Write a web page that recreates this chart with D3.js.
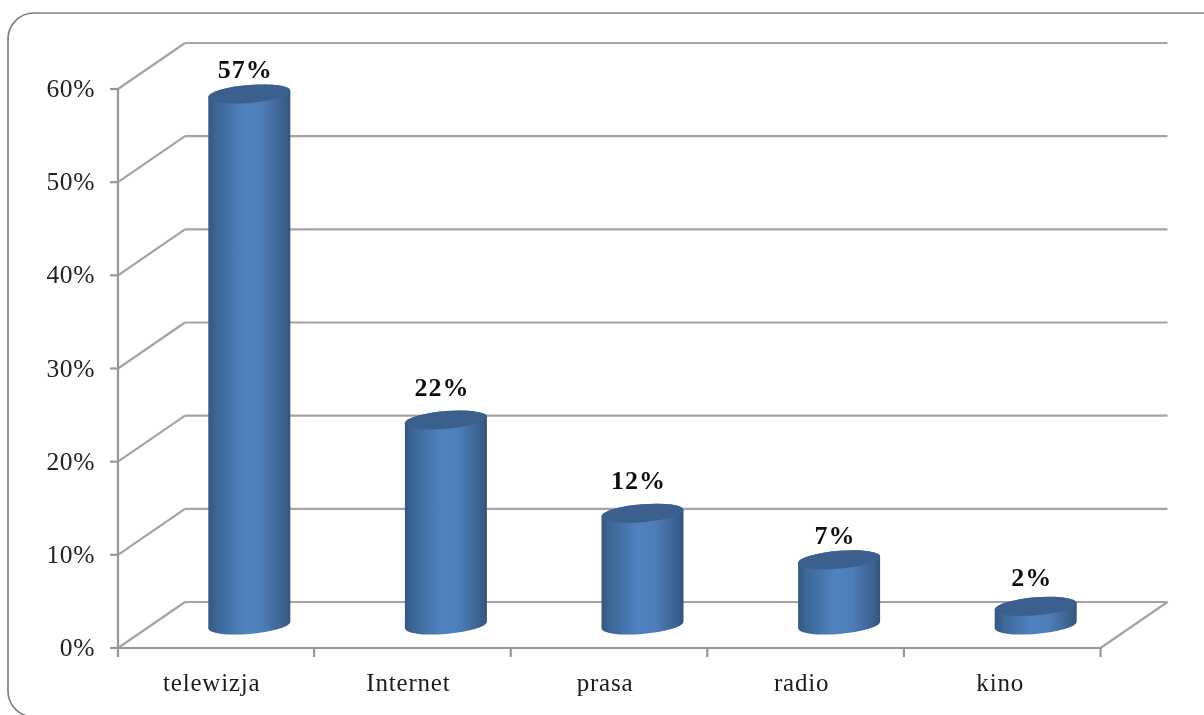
<!DOCTYPE html>
<html><head><meta charset="utf-8">
<script src="https://cdn.jsdelivr.net/npm/d3@7"></script>
<style>html,body{margin:0;padding:0;background:#fff;overflow:hidden}svg{display:block}text{font-family:"Liberation Serif",serif}</style>
</head><body><svg id="c" width="1204" height="715"></svg>
<script>
const categories = ["telewizja","Internet","prasa","radio","kino"];
const values = [57,22,12,7,2];
const valueLabels = ["57%","22%","12%","7%","2%"];
const tickValues = [0,10,20,30,40,50,60];

const svg = d3.select("#c");
const depthX = 67, depthY = 46;
const x = d3.scaleBand().domain(categories).range([117.5,1100.5]);
const y = d3.scaleLinear().domain([0,60]).range([648,89]);
const lenPerUnit = y(0)-y(1);
const labelGap = [16,24,24,16,20];

const defs = svg.append("defs");
const g = defs.append("linearGradient").attr("id","cyl").attr("x1",0).attr("x2",1).attr("y1",0).attr("y2",0);
[[0,"#33587f"],[0.1,"#3c6696"],[0.45,"#5082c0"],[0.65,"#4d7eb9"],[0.9,"#3c6391"],[1,"#31557d"]]
  .forEach(s=>g.append("stop").attr("offset",s[0]).attr("stop-color",s[1]));
defs.append("filter").attr("id","soft").attr("x","-5%").attr("y","-5%").attr("width","110%").attr("height","110%")
  .append("feGaussianBlur").attr("stdDeviation",0.7);

const root = svg.append("g").attr("filter","url(#soft)");
root.append("rect").attr("x",8).attr("y",13).attr("width",1240).attr("height",704).attr("rx",26)
  .attr("fill","#fff").attr("stroke","#808080").attr("stroke-width",1.7);

const grid = root.append("g").attr("stroke","#a4a4a4").attr("stroke-width",2.2).attr("fill","none");
tickValues.forEach(t=>{
  grid.append("line").attr("x1",118).attr("x2",118+depthX).attr("y1",y(t)).attr("y2",y(t)-depthY);
  grid.append("line").attr("x1",118+depthX).attr("x2",x.range()[1]+depthX).attr("y1",y(t)-depthY).attr("y2",y(t)-depthY);
});
grid.append("line").attr("x1",x.range()[1]).attr("x2",x.range()[1]+depthX).attr("y1",y(0)).attr("y2",y(0)-depthY);

const axisG = root.append("g").attr("stroke","#969696").attr("stroke-width",2.2).attr("fill","none");
axisG.append("line").attr("x1",118).attr("x2",118).attr("y1",y(60)).attr("y2",y(0)+9);
axisG.append("line").attr("x1",118).attr("x2",x.range()[1]).attr("y1",y(0)).attr("y2",y(0));
tickValues.forEach(t=>axisG.append("line").attr("x1",110).attr("x2",118).attr("y1",y(t)).attr("y2",y(t)));
categories.forEach(c=>{const p=x(c)+x.bandwidth();
  axisG.append("line").attr("x1",p).attr("x2",p).attr("y1",y(0)).attr("y2",y(0)+9);});

const yLab = root.append("g").attr("font-size",25.5).attr("fill","#222").attr("text-anchor","end").attr("letter-spacing","0.6");
tickValues.forEach(t=>yLab.append("text").attr("x",95).attr("y",y(t)+8).text(t+"%"));

const xLab = root.append("g").attr("font-size",25).attr("fill","#1c1c1c").attr("text-anchor","middle").attr("letter-spacing","0.8");
categories.forEach((c,i)=>xLab.append("text").attr("x",x(c)+x.bandwidth()/2-(i===4?2:4)).attr("y",691).text(c));

const rx = 41, ry = 9, floorY = y(0)-23;
categories.forEach((c,i)=>{
  const cx = x(c)+x.bandwidth()/2+depthX/2;
  const yb = floorY, yt = floorY - values[i]*lenPerUnit;
  const bar = root.append("g").attr("transform",`translate(${cx},0) skewY(-4.5)`);
  bar.append("path").attr("fill","url(#cyl)")
    .attr("d",`M${-rx},${yt}L${-rx},${yb}A${rx},${ry} 0 0 0 ${rx},${yb}L${rx},${yt}A${rx},${ry} 0 0 0 ${-rx},${yt}Z`);
  bar.append("ellipse").attr("cx",0).attr("cy",yt).attr("rx",rx).attr("ry",ry).attr("fill","#3b608d");
  root.append("text").attr("x",cx-4).attr("y",yt-labelGap[i]).attr("text-anchor","middle")
    .attr("font-size",26).attr("font-weight","bold").attr("fill","#111").attr("letter-spacing","1").text(valueLabels[i]);
});
</script></body></html>
